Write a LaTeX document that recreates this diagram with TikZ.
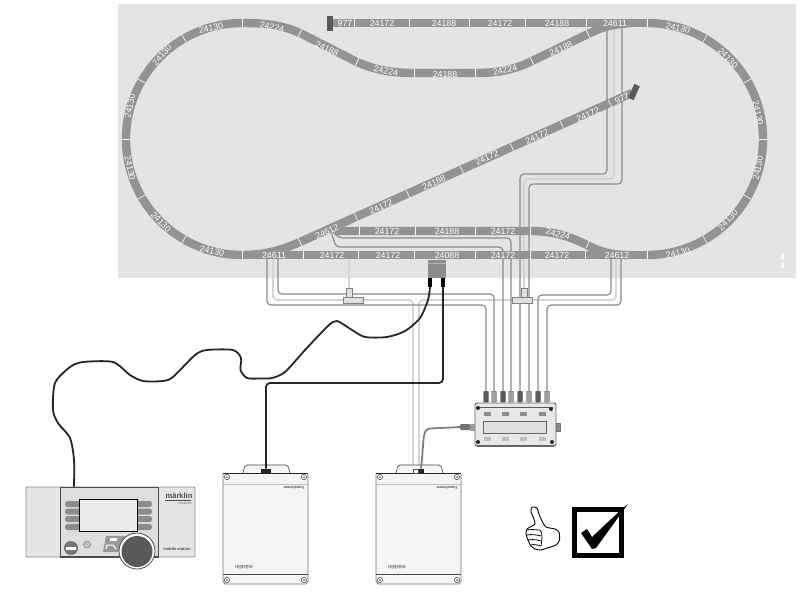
\documentclass[tikz,border=0pt]{standalone}
\usepackage{fontspec}
\setmainfont{Liberation Sans}
\usetikzlibrary{calc}
\definecolor{bgc}{HTML}{E4E4E6}
\definecolor{trk}{HTML}{939393}
\definecolor{wiregray}{HTML}{8A8A8A}
\definecolor{palew}{HTML}{D4D4D4}
\definecolor{darkp}{HTML}{5A5A5A}
\definecolor{lightp}{HTML}{A0A0A0}
\tikzset{
  x=1pt,y=-1pt,
  track/.style={draw=trk,line width=8.4pt,line cap=butt},
  tick/.style={draw=white!90!trk,line width=0.7pt},
  tl/.style={text=white,font=\fontsize{8.8}{9}\selectfont,inner sep=0pt},
  wire/.style={draw=wiregray,line width=1.2pt,rounded corners=4pt},
  pale/.style={draw=palew,line width=1.6pt,rounded corners=4pt},
  blackw/.style={draw=black!85,line width=1.8pt,rounded corners=4pt},
  plugd/.style={draw=black!60,fill=darkp,line width=0.4pt,minimum width=5pt,minimum height=11pt,inner sep=0pt,rounded corners=0.8pt},
  plugl/.style={draw=black!60,fill=lightp,line width=0.4pt,minimum width=5pt,minimum height=11pt,inner sep=0pt,rounded corners=0.8pt},
  tpart/.style={draw=gray,fill=black!12,line width=0.6pt},
  endblock/.style={fill=black!65,inner sep=0pt,minimum width=6pt,minimum height=15pt},
  pill/.style={fill=black!45},
  xfmr/.pic={
    \draw[black!70,fill=white!96!black,line width=0.7pt,rounded corners=2pt] (20,0) -- (22,-8) -- (65,-8) -- (67,0);
    \draw[black!55,fill=white!96!black,line width=0.7pt] (0,1) -- (0,108) -- (2,111) -- (83,111) -- (85,108) -- (85,1);
    \draw[black!85,line width=1pt] (0,0) -- (85,0);
    \draw[black!25,line width=0.5pt] (0,11) -- (85,11);
    \draw[black!70,line width=0.9pt] (0,101) -- (85,101);
    \foreach \sx/\sy in {4/4,81/4,4/107,81/107}{
      \draw[black!70,fill=white,line width=0.6pt] (\sx,\sy) circle[radius=2.6];
      \fill[black!60] (\sx,\sy) circle[radius=1];
    }
    \node[rotate=180,font=\bfseries\fontsize{3.6}{4}\selectfont,text=black!75,inner sep=0pt] at (71,15) {Transformer};
    \node[rotate=180,font=\bfseries\fontsize{5}{5}\selectfont,text=black!60,inner sep=0pt] at (21,94) {märklin};
  }
}
\begin{document}
\begin{tikzpicture}
\useasboundingbox (0,0) rectangle (800,594);
\fill[white] (0,0) rectangle (800,594);
\fill[bgc] (118,4) rectangle (796,278);
\fill[white!85!bgc] (780.5,253) rectangle (783.5,259);
\fill[white!85!bgc] (780.5,263) rectangle (783.5,268);

% ---- named nodes of the equipment -----
\foreach \i/\px/\st in {1/486/plugd,2/494/plugl,3/503/plugd,4/511/plugl,5/520/plugd,6/529/plugl,7/538/plugd,8/547/plugl}{
  \coordinate (pp\i) at (\px,391);
}
\coordinate (a1) at (267,255); \coordinate (a2) at (278,255); \coordinate (a3) at (273,255);
\coordinate (b1) at (607,23);  \coordinate (b2) at (622,23);  \coordinate (b3) at (614,23);
\coordinate (c1) at (611,255); \coordinate (c2) at (621,255); \coordinate (c3) at (616,255);
\coordinate (d) at (349,255);
\coordinate (e) at (330,229);
\coordinate (tr2a) at (413,468); \coordinate (tr2b) at (419,468);

% ---- wires under the tracks -----
\draw[pale] (a3) -- (273,300) -- (413,300) -- (tr2a);
\draw[pale] (c3) -- (616,300) -- (419,300) -- (tr2b);
\draw[pale] (b3) -- (614,179) -- (524,179) -- (524,300);
\draw[pale] (d) -- (349,290);
\draw[wire] (a1) -- (267,305) -- (486,305) -- (pp1);
\draw[wire] (a2) -- (278,294) -- (494,294) -- (pp2);
\draw[wire] (e) -- (336,247) -- (503,247) -- (pp3);
\draw[wire] (e) -- (339,238) -- (511,238) -- (pp4);
\draw[wire] (b1) -- (607,174) -- (520,174) -- (pp5);
\draw[wire] (b2) -- (622,184) -- (529,184) -- (pp6);
\draw[wire] (c1) -- (611,295) -- (538,295) -- (pp7);
\draw[wire] (c2) -- (621,305) -- (547,305) -- (pp8);

% ---- tracks -----
\draw[track] (647,23) -- (328,23);
\draw[track] (242,255) -- (647,255);
% left and right loops
\draw[track] (242,23) .. controls (178,23) and (126,75) .. (126,139) .. controls (126,203) and (178,255) .. (242,255);
\draw[track] (647,23) .. controls (711,23) and (763,75) .. (763,139) .. controls (763,203) and (711,255) .. (647,255);
% inner S-track
\draw[track] (242,23) .. controls (265,23) and (282,25) .. (300,33) -- (357,62) .. controls (375,70) and (392,73) .. (414,73) -- (475,73) .. controls (497,73) and (514,70) .. (532,61) -- (588,34) .. controls (600,28) and (612,24) .. (632,23);
% diagonal
\draw[track] (242,255) .. controls (265,255) and (282,250) .. (300,242) -- (632,93);
% passing siding
\draw[track] (335,231) -- (530,231) .. controls (553,231) and (568,236) .. (585,244) .. controls (600,252) and (612,255) .. (628,255);
\node[endblock] (end1) at (330,23.5) {};
\node[endblock,rotate=-24] (end2) at (634,92) {};

% ticks on the loops
\foreach \a in {30,60,90,120,150}{
  \draw[tick] ({242-112*sin(\a)},{139-112*cos(\a)}) -- ({242-120*sin(\a)},{139-120*cos(\a)});
  \draw[tick] ({647+112*sin(\a)},{139-112*cos(\a)}) -- ({647+120*sin(\a)},{139-120*cos(\a)});
}
\foreach \x in {242,354,409,469,525,586,647}{\draw[tick] (\x,19) -- (\x,27);}
\foreach \x in {242,303,358,414,475,530,585,647}{\draw[tick] (\x,251) -- (\x,259);}
\foreach \x in {359,415,475,530}{\draw[tick] (\x,227) -- (\x,235);}
\foreach \x in {414,475}{\draw[tick] (\x,69) -- (\x,77);}
\foreach \x/\y in {300/33,357/62,588/244}{\draw[tick] (\x-1.8,\y+3.6) -- (\x+1.8,\y-3.6);}
\foreach \x/\y in {532/61,588/34}{\draw[tick] (\x-1.8,\y-3.6) -- (\x+1.8,\y+3.6);}
\draw[tick] (298.2,238.4) -- (301.8,245.6);
\foreach \x/\y in {356/217,408/194,462/170,512/147.5,562/125,610/103.5}{\draw[tick] (\x-1.7,\y-3.7) -- (\x+1.7,\y+3.7);}

% track labels
\foreach[count=\n] \x/\y/\r/\t in {
 345/23/0/977,382/23/0/24172,444/23/0/24188,500/23/0/24172,557/23/0/24188,615/23/0/24611,
 211/28/12/24130,272/27/-12/24224,327/49/-25/24188,386/71/-10/24224,445/74/0/24188,505/70/12/24224,561/49/25/24188,
 162/55/50/24130,130/106/78/24130,130/168/-78/24130,161/222/-47/24130,212/251/-12/24130,
 327/232/24/24612,381/207/24/24172,434/183/24/24188,487/158/24/24172,537/137/24/24172,588/115/24/24172,622/99/24/977,
 387/231/0/24172,447/231/0/24188,503/231/0/24172,558/234/-15/24224,
 274/255/0/24611,332/255/0/24172,388/255/0/24172,447/255/0/24088,503/255/0/24172,557/255/0/24172,617/255/0/24612,
 678/28/-12/24130,728/58/-47/24130,758/113/-78/24130,758/168/78/24130,728/220/47/24130,678/253/12/24130}{
  \node[tl,rotate=\r] (lab\n) at (\x,\y) {\t};
}

% T connectors
\node[tpart,minimum width=5.5pt,minimum height=9pt,inner sep=0pt] (t1v) at (349.5,292.5) {};
\node[tpart,minimum width=20pt,minimum height=6pt,inner sep=0pt] (t1h) at (353,300) {};
\node[tpart,minimum width=5.5pt,minimum height=9pt,inner sep=0pt] (t2v) at (524.5,292.5) {};
\node[tpart,minimum width=20pt,minimum height=6pt,inner sep=0pt] (t2h) at (522,300) {};

% decoder plate on track
\node[fill=black!45,minimum width=18pt,minimum height=18pt,inner sep=0pt] (dec) at (437,269) {};
\draw[white!70!black,line width=0.6pt] (428,263) -- (446,263);
\node[fill=black,minimum width=3.5pt,minimum height=9pt,inner sep=0pt] (dp1) at (430,282.5) {};
\node[fill=black,minimum width=3.5pt,minimum height=9pt,inner sep=0pt] (dp2) at (443,282.5) {};

% ---- distribution box -----
\node[draw=black!60,fill=black!9,line width=0.9pt,rounded corners=2pt,minimum width=81pt,minimum height=43pt,inner sep=0pt] (box) at (515.5,424.5) {};
\draw[black!65,line width=0.7pt] (478,407) -- (553,407);
\draw[black!60,line width=1.2pt] (477,446) -- (554,446);
\node[draw=black!60,fill=black!12,line width=0.6pt,minimum width=63pt,minimum height=12pt,inner sep=0pt] (win) at (514.5,427) {};
\foreach \x in {487,505.5,523.5,542}{
  \fill[black!45] (\x-3.5,412) rectangle (\x+3.5,416);
  \fill[black!25] (\x-3.5,437) rectangle (\x+3.5,441);
}
\foreach \x/\y in {478/408,551/409,478/442,552/442}{\fill[black!85] (\x,\y) circle[radius=2];}
\node[fill=black!45,draw=black!55,line width=0.3pt,minimum width=4pt,minimum height=8pt,inner sep=0pt] (nubr) at (558,427) {};
\node[fill=black!55,minimum width=10pt,minimum height=6pt,inner sep=0pt,rounded corners=1pt] (plugb) at (465,427) {};
\node[fill=black!40,minimum width=5pt,minimum height=7pt,inner sep=0pt] (plugc) at (472.5,427) {};
\foreach \i/\st in {1/plugd,2/plugl,3/plugd,4/plugl,5/plugd,6/plugl,7/plugd,8/plugl}{
  \node[\st,anchor=north] (plug\i) at (pp\i) {};
}

% ---- transformers -----
\pic at (223,473) {xfmr};
\pic at (376,473) {xfmr};
\node[fill=black!85,minimum width=10pt,minimum height=4.5pt,inner sep=0pt] (c1t) at (266,471) {};
\node[fill=black!85,minimum width=6pt,minimum height=4.5pt,inner sep=0pt] (c2t) at (421,471) {};
\node[fill=white,draw=black!70,line width=0.3pt,minimum width=5pt,minimum height=4.5pt,inner sep=0pt] (c2w) at (415.5,471) {};

% gray feed
\draw[draw=black!50,line width=1.8pt] (plugb.west) .. controls (445,428) and (432,428) .. (428,429) .. controls (422,431) and (424,445) .. (c2t.north);

% ---- black cables -----
\draw[blackw] (dp2.south) -- (443,383) -- (266,383) -- (c1t.north);
\coordinate (ms) at (74,487);
\draw[draw=black!85,line width=1.8pt] plot[smooth,tension=0.45] coordinates {(dp1.south) (428,300) (420,318) (405,331) (387,337) (365,337) (352,330) (337,321) (328,326) (305,350) (285,372) (272,378) (260,378.5) (247,378) (240.5,370) (241,358) (233,350) (207,350) (195,355) (173,377) (163,381) (143,381) (130,375) (113,362) (83,362) (70,367) (55,383) (53,410) (58,423) (70,438) (74,460) (ms)};

% ---- mobile station -----
\draw[black!45,fill=black!10,line width=0.8pt,rounded corners=1pt] (26,487) rectangle (195,557);
\draw[black!70,fill=black!13,line width=1.3pt] (60.5,487.5) rectangle (158.5,557);
\foreach \y in {504,511.5,519,527}{
  \fill[pill,rounded corners=2.5pt] (65,\y-3) rectangle (82,\y+3);
  \fill[pill,rounded corners=2.5pt] (134,\y-3) rectangle (152,\y+3);
}
\node[draw=black,fill=black!8,line width=0.9pt,minimum width=58pt,minimum height=32pt,inner sep=0pt] (screen) at (108,515) {};
\node[circle,fill=black!55,minimum size=14pt,inner sep=0pt] (rb) at (71,548) {};
\fill[white] (66,546.5) rectangle (76,549.5);
\node[circle,fill=black!25,draw=black!50,line width=0.5pt,minimum size=7pt,inner sep=0pt] (sb) at (87,544.5) {};
\fill[black!40] (106,536) -- (125,536) -- (121,552) -- (103,552) -- cycle;
\fill[white] (110,537.5) rectangle (117,541);
\draw[white,line width=1pt] (106,549) -- (107,545) -- (113,545) -- (116,549);
\node[circle,draw=black!70,fill=white,line width=0.8pt,minimum size=36pt,inner sep=0pt] (ring) at (137,551) {};
\node[circle,fill=black!65,minimum size=31pt,inner sep=0pt] (knob) at (137,551.5) {};
\node[font=\bfseries\fontsize{7.5}{8}\selectfont,text=black!70,inner sep=0pt] (mk) at (179,495.5) {märklin};
\draw[black!70,line width=0.9pt] (165,500.5) -- (191,500.5);
\node[font=\fontsize{3.5}{4}\selectfont,text=black!60,inner sep=0pt] (sys) at (185,503.5) {systems};
\node[font=\bfseries\fontsize{4}{5}\selectfont,text=black!70,inner sep=0pt] (mobst) at (177,549) {mobile station};

% ---- thumb -----
\draw[black,fill=white,line width=0.9pt,line join=round] plot[smooth cycle,tension=0.4] coordinates {(532,507) (537,508) (539,514) (542,521) (546,527) (555,529) (559,532) (559.5,540) (556,545) (547,548) (541,550) (535,549) (531,546) (528,540) (526,534) (527,529) (532,526) (535,524) (534,519) (531,512)};
\draw[black,line width=0.8pt] (527,530) .. controls (532,529) and (536,530) .. (540,530);
\draw[black,line width=0.8pt] (526.5,535) .. controls (532,534) and (537,535) .. (541,536);
\draw[black,line width=0.8pt] (528,540) .. controls (533,539) and (538,540) .. (541,541);
\draw[black,line width=0.8pt] (531,545) .. controls (534,544) and (538,545) .. (541,546);
\draw[black,line width=0.8pt] (540,530) .. controls (543,533) and (542,540) .. (541,546);

% ---- check box -----
\node[draw=black,fill=white,line width=5pt,minimum width=47pt,minimum height=46pt,inner sep=0pt] (chk) at (598,532.5) {};
\fill[black] (581,533) -- (587,529) -- (592,537) -- (623,508) -- (628,504) -- (596,548) -- (592,549) -- cycle;
\end{tikzpicture}
\end{document}
